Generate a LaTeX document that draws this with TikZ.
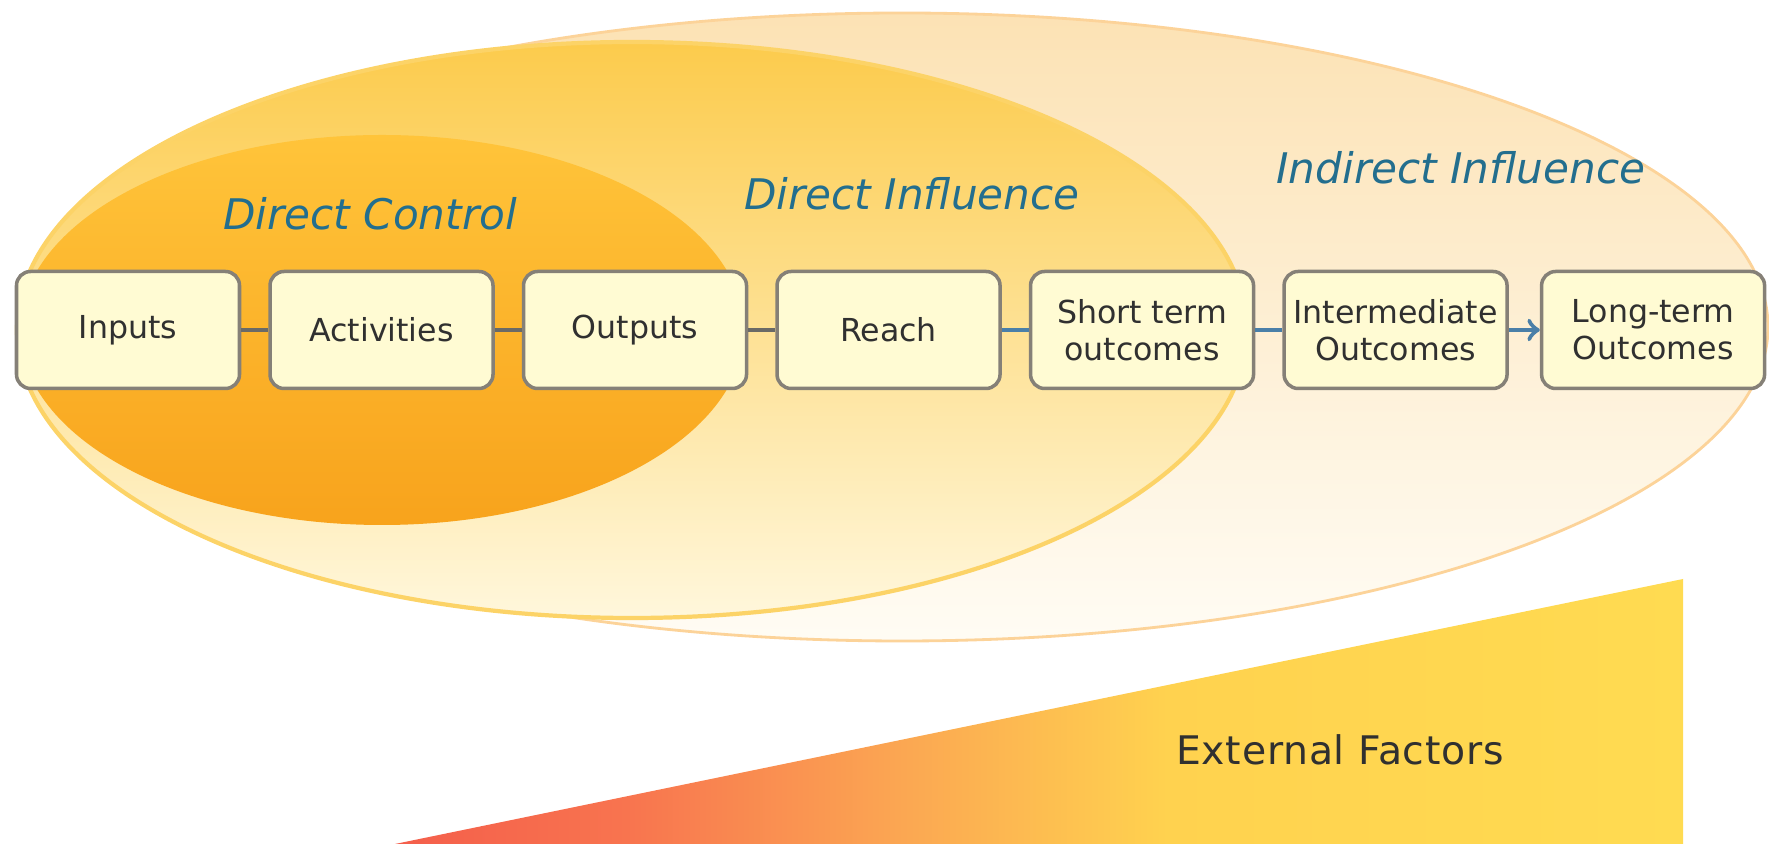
\documentclass[tikz,border=0pt]{standalone}
\usepackage{fontspec}
\setmainfont{DejaVu Sans}
\usepackage{tikz}
\usetikzlibrary{arrows,positioning}
\definecolor{boxfill}{HTML}{FFFBD3}
\definecolor{boxline}{HTML}{858077}
\definecolor{boxtext}{HTML}{303030}
\definecolor{linkgray}{HTML}{6A6A66}
\definecolor{linkblue}{HTML}{4A7FA8}
\definecolor{handblue}{HTML}{236E8E}
\definecolor{ytop}{HTML}{FCE2B4}
\definecolor{ybot}{HTML}{FFFCF4}
\definecolor{mtop}{HTML}{FCCB4C}
\definecolor{mbot}{HTML}{FFF7DC}
\definecolor{itop}{HTML}{FFC43A}
\definecolor{ibot}{HTML}{F8A31C}
\definecolor{ext1}{HTML}{F45E4B}
\definecolor{ext2}{HTML}{F8744F}
\definecolor{ext3}{HTML}{FBA652}
\definecolor{ext4}{HTML}{FFD24F}
\definecolor{ext5}{HTML}{FFDB51}
\pgfdeclarehorizontalshading{ekstern}{100bp}{color(0bp)=(ext1); color(25bp)=(ext1);
  color(34bp)=(ext2); color(44.5bp)=(ext3); color(55bp)=(ext4);
  color(75bp)=(ext5); color(100bp)=(ext5)}
\tikzset{
    >=to,
    boks/.style={
           rounded corners=4pt,
           draw=boxline, line width=1pt,
           fill=boxfill,
           minimum width=2.23cm,
           minimum height=1.17cm,
           inner sep=1pt,
           align=center,
           text=boxtext},
    linje/.style={
           line width=1.3pt,
           draw=linkgray},
    blaa/.style={
           line width=1.3pt,
           draw=linkblue},
    pil/.style={
           ->,
           line width=1.3pt,
           draw=linkblue},
    haand/.style={
           font=\fontsize{12pt}{14pt}\selectfont\itshape,
           text=handblue}
}

\begin{document}
\begin{tikzpicture}
          \def \gap {0.27cm}
          \useasboundingbox (0,0) rectangle (17.69,8.46);
          % zones
          \shade[top color=ytop, bottom color=ybot, draw=ytop!85!orange, line width=0.8pt] (9.02,5.19) ellipse [x radius=8.66, y radius=3.14];
          \shade[top color=mtop, bottom color=mbot, draw=mtop!85!white, line width=1.2pt] (6.32,5.16) ellipse [x radius=6.15, y radius=2.88];
          \shade[top color=itop, bottom color=ibot] (3.82,5.16) ellipse [x radius=3.62, y radius=1.95];
          % external factors
          \shade[shading=ekstern] (3.95,0.02) -- (16.83,0.02) -- (16.83,2.67) -- cycle;
          \node[text=boxtext, font=\fontsize{11.2pt}{13pt}\selectfont\addfontfeature{LetterSpace=2}] (ext) at (13.40,0.96) {External Factors};
          % labels
          \node[haand] (ctrl) at (3.70,6.32) {Direct Control};
          \node[haand] (dinf) at (9.12,6.52) {Direct Influence};
          \node[haand] (iinf) at (14.61,6.78) {Indirect Influence};
          % chain
          \fontsize{9pt}{10.5pt}\selectfont
          \node[boks] (inputs) at (1.28,5.16) {Inputs};
          \node[boks, right=\gap of inputs] (activities) {Activities};
          \node[boks, right=\gap of activities] (outputs) {Outputs};
          \node[boks, right=\gap of outputs] (reach) {Reach};
          \node[boks, right=\gap of reach] (short) {Short term\\outcomes};
          \node[boks, right=\gap of short] (inter) {Intermediate\\Outcomes};
          \node[boks, right=0.31cm of inter] (long) {Long-term\\Outcomes};
          \draw[linje] (inputs) -- (activities);
          \draw[linje] (activities) -- (outputs);
          \draw[linje] (outputs) -- (reach);
          \draw[blaa] (reach) -- (short);
          \draw[blaa] (short) -- (inter);
          \draw[pil] (inter) -- (long);
\end{tikzpicture}
\end{document}
